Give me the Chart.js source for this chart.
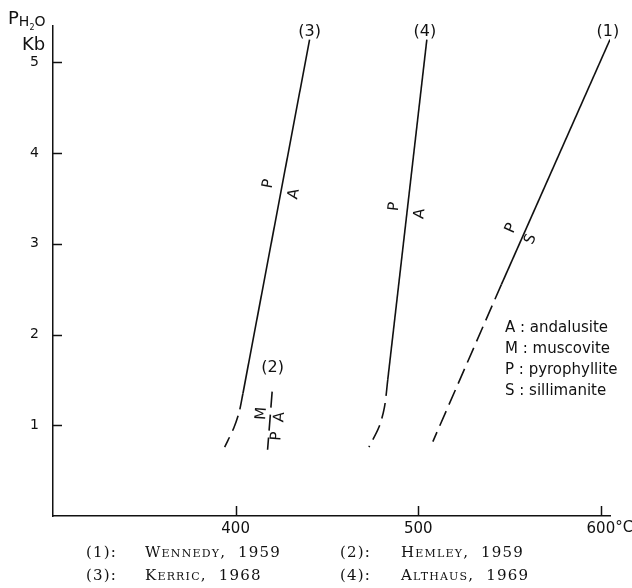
<!DOCTYPE html>
<html>
<head>
<meta charset="utf-8">
<script src="https://cdn.jsdelivr.net/npm/chart.js@4.4.1/dist/chart.umd.min.js"></script>
<style>
    html, body { margin: 0; padding: 0; background: #fff; }
    #wrap { position: relative; width: 632px; height: 588px; }
    #wrap canvas { position: absolute; left: 0; top: 0; }
    .txt { position: absolute; color: #111; white-space: pre; font-family: "DejaVu Sans", sans-serif; }
    .cap { position: absolute; color: #111; white-space: pre; font-family: "DejaVu Serif", serif; font-size: 15px; letter-spacing: 1.2px; }
    .sc { font-variant: small-caps; }
</style>
</head>
<body>
<div id="wrap">
    <canvas id="chart" width="632" height="588"></canvas>

    <div class="txt" style="left:8px; top:7px; font-size:18px;">P<span style="font-size:14px; position:relative; top:2px;">H<span style="font-size:8px; position:relative; top:4px;">2</span>O</span></div>
    <div class="txt" style="left:22px; top:33px; font-size:18px;">Kb</div>

    <div class="txt" style="left:505px; top:318px; font-size:15px;">A : andalusite</div>
    <div class="txt" style="left:505px; top:339px; font-size:15px;">M : muscovite</div>
    <div class="txt" style="left:505px; top:360px; font-size:15px;">P : pyrophyllite</div>
    <div class="txt" style="left:505px; top:381px; font-size:15px;">S : sillimanite</div>

    <div class="cap" style="left:86px; top:543px;">(1):</div>
    <div class="cap sc" style="left:145px; top:543px;">Wennedy,  1959</div>
    <div class="cap" style="left:340px; top:543px;">(2):</div>
    <div class="cap sc" style="left:401px; top:543px;">Hemley,  1959</div>
    <div class="cap" style="left:86px; top:566px;">(3):</div>
    <div class="cap sc" style="left:145px; top:566px;">Kerric,  1968</div>
    <div class="cap" style="left:340px; top:566px;">(4):</div>
    <div class="cap sc" style="left:401px; top:566px;">Althaus,  1969</div>
</div>

<script>
const ink = "#111";

const xTicks = [400, 500, 600];
const yTicks = [1, 2, 3, 4, 5];

// (1) Kennedy 1959 : P -> S
const kennedyT = [605, 545.5];
const kennedyP = [5.25, 2.55];
const kennedyDashT = [545.5, 508];
const kennedyDashP = [2.55, 0.82];

// (2) Hemley 1959
const hemleyT = [420, 417.5];
const hemleyP = [1.37, 0.73];

// (3) Kerrick 1968 : P -> A
const kerrickT = [440.5, 404];
const kerrickP = [5.25, 1.35];
const kerrickDashT = [404, 402, 399, 394];
const kerrickDashP = [1.35, 1.15, 0.97, 0.76];

// (4) Althaus 1969 : P -> A
const althausT = [504.7, 483.3];
const althausP = [5.25, 1.5];
const althausDashT = [483.3, 481.5, 478.5, 473];
const althausDashP = [1.5, 1.2, 0.98, 0.76];

// curve numbers at the top of each line
const curveNames = ["(1)", "(2)", "(3)", "(4)"];
const curveNameT = [603.8, 420.3, 440.5, 503.6];
const curveNameP = [5.34, 1.63, 5.34, 5.34];

// mineral letters beside the lines (curve = 0..3 for (1)..(4))
const phaseText = ["P", "A", "P", "A", "P", "S", "M", "P", "A"];
const phaseT = [418, 432, 487, 501, 551, 561.6, 414.2, 422.5, 424.2];
const phaseP = [3.66, 3.55, 3.41, 3.33, 3.17, 3.05, 1.13, 0.88, 1.09];
const phaseCurve = [2, 2, 3, 3, 0, 0, 1, 1, 1];

const curves = [
    [kennedyT, kennedyP],
    [hemleyT, hemleyP],
    [kerrickT, kerrickP],
    [althausT, althausP]
];

function pts(ts, ps) {
    return ts.map((t, i) => ({ x: t, y: ps[i] }));
}

function lineSet(ts, ps, dashed) {
    return {
        data: pts(ts, ps),
        borderColor: ink,
        borderWidth: 1.6,
        borderDash: dashed ? [16, 7] : [],
        pointRadius: 0,
        tension: dashed && ts.length > 2 ? 0.3 : 0,
        fill: false
    };
}

const annotate = {
    id: "annotate",
    afterDraw(chart) {
        const { ctx, chartArea } = chart;
        const x = chart.scales.x;
        const y = chart.scales.y;
        ctx.save();
        ctx.strokeStyle = ink;
        ctx.lineWidth = 1.5;

        // ticks point inward
        yTicks.forEach(v => {
            const py = Math.round(y.getPixelForValue(v)) + 0.5;
            ctx.beginPath();
            ctx.moveTo(chartArea.left, py);
            ctx.lineTo(chartArea.left + 9, py);
            ctx.stroke();
        });
        xTicks.forEach(v => {
            const px = Math.round(x.getPixelForValue(v)) + 0.5;
            ctx.beginPath();
            ctx.moveTo(px, chartArea.bottom);
            ctx.lineTo(px, chartArea.bottom - 10);
            ctx.stroke();
        });

        ctx.fillStyle = ink;

        // degree sign after the last tick label
        ctx.font = '15px "DejaVu Sans"';
        ctx.textAlign = "left";
        ctx.textBaseline = "middle";
        const last = xTicks[xTicks.length - 1];
        const w = ctx.measureText(String(last)).width;
        ctx.fillText("°C", x.getPixelForValue(last) + w / 2, chartArea.bottom + 12);

        // curve numbers
        ctx.font = '16px "DejaVu Sans"';
        ctx.textAlign = "center";
        curveNames.forEach((t, i) => {
            ctx.fillText(t, x.getPixelForValue(curveNameT[i]), y.getPixelForValue(curveNameP[i]));
        });

        // letters rotated along their line
        ctx.font = '15px "DejaVu Sans"';
        phaseText.forEach((t, i) => {
            const [ts, ps] = curves[phaseCurve[i]];
            const n = ts.length - 1;
            const ang = Math.atan2(
                y.getPixelForValue(ps[0]) - y.getPixelForValue(ps[n]),
                x.getPixelForValue(ts[0]) - x.getPixelForValue(ts[n])
            );
            ctx.save();
            ctx.translate(x.getPixelForValue(phaseT[i]), y.getPixelForValue(phaseP[i]));
            ctx.rotate(ang);
            ctx.fillText(t, 0, 0);
            ctx.restore();
        });

        ctx.restore();
    }
};

new Chart(document.getElementById("chart"), {
    type: "line",
    data: {
        datasets: [
            lineSet(kennedyT, kennedyP, false),
            lineSet(kennedyDashT, kennedyDashP, true),
            lineSet(hemleyT, hemleyP, true),
            lineSet(kerrickT, kerrickP, false),
            lineSet(kerrickDashT, kerrickDashP, true),
            lineSet(althausT, althausP, false),
            lineSet(althausDashT, althausDashP, true)
        ]
    },
    options: {
        responsive: false,
        animation: false,
        devicePixelRatio: 1,
        layout: { padding: { top: 26, right: 22, left: 0, bottom: 0 } },
        plugins: {
            legend: { display: false },
            tooltip: { enabled: false }
        },
        scales: {
            x: {
                type: "linear",
                min: 300,
                max: 605,
                grid: { display: false, drawTicks: false },
                border: { display: true, color: ink, width: 1.5 },
                afterBuildTicks: s => { s.ticks = xTicks.map(v => ({ value: v })); },
                afterFit: s => { s.height = 72; },
                ticks: {
                    color: ink,
                    padding: 4,
                    maxRotation: 0,
                    font: { family: "DejaVu Sans", size: 15 },
                    callback: v => String(v)
                }
            },
            y: {
                type: "linear",
                min: 0,
                max: 5.4,
                grid: { display: false, drawTicks: false },
                border: { display: true, color: ink, width: 1.5 },
                afterBuildTicks: s => { s.ticks = yTicks.map(v => ({ value: v })); },
                afterFit: s => { s.width = 53; },
                ticks: {
                    color: ink,
                    padding: 14,
                    font: { family: "DejaVu Sans", size: 14 },
                    callback: v => String(v)
                }
            }
        }
    },
    plugins: [annotate]
});
</script>
</body>
</html>
